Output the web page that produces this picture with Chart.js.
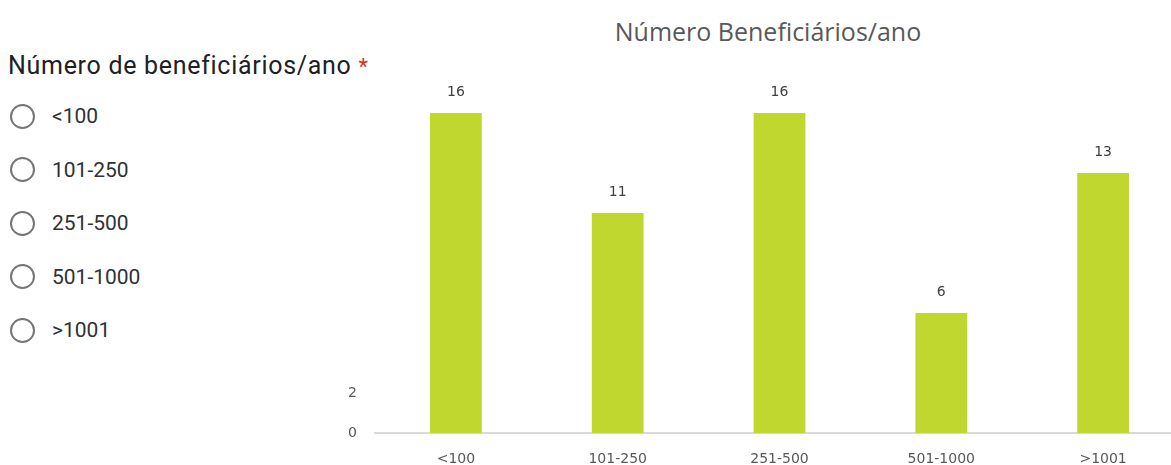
<!DOCTYPE html>
<html>
<head>
<meta charset="utf-8">
<script src="https://cdn.jsdelivr.net/npm/chart.js@4.4.0/dist/chart.umd.min.js"></script>
<style>
  html, body { margin: 0; padding: 0; background: #fff; overflow: hidden; }
  body { width: 1171px; height: 465px; position: relative; }
  #form { position: absolute; left: 0; top: 0; font-family: Roboto, sans-serif; color: #202124; }
  #form h3 { position: absolute; left: 8px; top: 51px; margin: 0; font-weight: 400; font-size: 25px; letter-spacing: 0.7px; white-space: nowrap; }
  #form h3 span { color: #d93025; font-size: 22px; }
  .opt { position: absolute; left: 10px; height: 26px; display: flex; align-items: center; white-space: nowrap; font-size: 21px; color: #303134; }
  .opt i { display: inline-block; width: 21px; height: 21px; border: 2px solid #757575; border-radius: 50%; margin-right: 17px; }
  #title { position: absolute; left: 568px; width: 400px; top: 14px; text-align: center; font-family: "Open Sans", sans-serif; font-size: 25px; color: #595959; }
  #wrap { position: absolute; left: 330px; top: 0; width: 854px; height: 465px; }
</style>
</head>
<body>
<div id="form"><h3>Número de beneficiários/ano <span>*</span></h3></div>
<div id="title">Número Beneficiários/ano</div>
<div id="wrap"><canvas id="chart"></canvas></div>
<script>
// categories and counts
const categories = ["<100", "101-250", "251-500", "501-1000", ">1001"];
const counts = [16, 11, 16, 6, 13];
const yTicksShown = [0, 2];

// left side: the form question with its radio options
const form = document.getElementById("form");
categories.forEach((c, i) => {
  const d = document.createElement("div");
  d.className = "opt";
  d.style.top = 103 + i * 53.5 + "px";
  d.innerHTML = "<i></i>" + c.replace("<", "&lt;").replace(">", "&gt;");
  form.appendChild(d);
});

// draws the value above each bar
const valueLabels = {
  id: "valueLabels",
  afterDatasetsDraw(chart) {
    const ctx = chart.ctx;
    const meta = chart.getDatasetMeta(0);
    ctx.save();
    ctx.font = "14px 'DejaVu Sans'";
    ctx.fillStyle = "#404040";
    ctx.textAlign = "center";
    ctx.textBaseline = "middle";
    meta.data.forEach((bar, i) => {
      ctx.fillText(counts[i], bar.x, bar.y - 21);
    });
    ctx.restore();
  },
};

const ctx = document.getElementById("chart");
const myChart = new Chart(ctx, {
  type: "bar",
  data: {
    labels: categories,
    datasets: [
      {
        data: counts,
        backgroundColor: "#c0d730",
        borderWidth: 0,
        barPercentage: 0.64,
        categoryPercentage: 0.5,
      },
    ],
  },
  options: {
    responsive: true,
    maintainAspectRatio: false,
    animation: false,
    layout: { padding: { top: 73, right: 0, left: 0, bottom: 0 } },
    plugins: {
      legend: { display: false },
      tooltip: { enabled: false },
    },
    scales: {
      x: {
        grid: { display: false, drawTicks: false },
        border: { color: "#d9d9d9", width: 2 },
        ticks: { color: "#595959", font: { family: "DejaVu Sans", size: 14 }, padding: 18 },
        afterFit: (s) => { s.height = 32; },
      },
      y: {
        min: 0,
        max: 18,
        grid: { display: false, drawTicks: false },
        border: { display: false },
        ticks: {
          stepSize: 2,
          color: "#595959",
          font: { family: "DejaVu Sans", size: 14 },
          padding: 18,
          callback: (v) => (yTicksShown.includes(v) ? v : ""),
        },
        afterFit: (s) => { s.width = 45; },
      },
    },
  },
  plugins: [valueLabels],
});
</script>
</body>
</html>
